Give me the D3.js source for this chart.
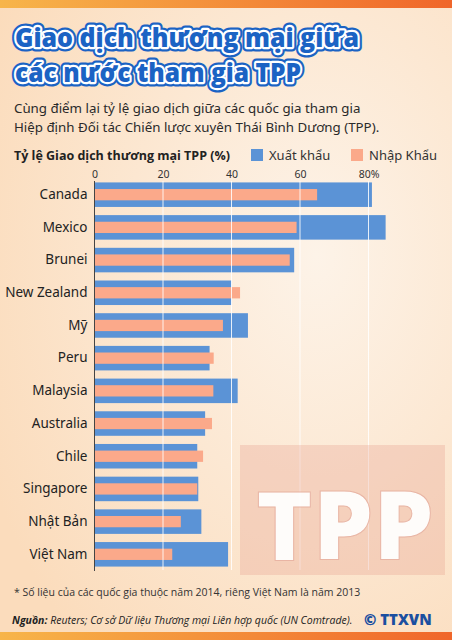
<!DOCTYPE html>
<html><head><meta charset="utf-8">
<script src="https://cdn.jsdelivr.net/npm/d3@7"></script>
<style>body{margin:0}svg{display:block}</style></head>
<body><svg id="c" width="452" height="640"></svg>
<script>
const countries=["Canada","Mexico","Brunei","New Zealand","Mỹ","Peru","Malaysia","Australia","Chile","Singapore","Nhật Bản","Việt Nam"];
const exportVals=[81,85,58.3,40,44.8,33.6,41.8,32.3,30,30.3,31.2,39];
const importVals=[65,59,57,42.5,37.5,34.8,34.7,34.3,31.7,30,25.2,22.7];
const ticks=[0,20,40,60,80];
const tickLabels=["0","20","40","60","80%"];

const svg=d3.select("#c");
const defs=svg.append("defs");
const bg=defs.append("radialGradient").attr("id","bg").attr("cx","0.7").attr("cy","0.4").attr("r","0.8");
bg.append("stop").attr("offset","0").attr("stop-color","#fdf3e8");
bg.append("stop").attr("offset","1").attr("stop-color","#fbdcbc");
const bar=defs.append("linearGradient").attr("id","bar");
bar.append("stop").attr("offset","0").attr("stop-color","#f7b54a");
bar.append("stop").attr("offset","1").attr("stop-color","#f0662a");
svg.append("rect").attr("width",452).attr("height",640).attr("fill","url(#bg)");
svg.append("rect").attr("width",452).attr("height",8).attr("fill","url(#bar)");
svg.append("rect").attr("y",632).attr("width",452).attr("height",8).attr("fill","url(#bar)");

const tl=["Giao dịch thương mại giữa","các nước tham gia TPP"];
tl.forEach((t,i)=>{
  const y=47+i*35;
  const f="'Open Sans',sans-serif";
  const mk=()=>svg.append("text").attr("x",15).attr("y",y).text(t).attr("font-family",f).attr("font-weight",800).attr("font-size",26).attr("textLength",i==0?344:286).attr("lengthAdjust","spacingAndGlyphs");
  mk().attr("fill","none").attr("stroke","#1b63c4").attr("stroke-width",9).attr("stroke-linejoin","round");
  mk().attr("fill","none").attr("stroke","#fff").attr("stroke-width",4.5).attr("stroke-linejoin","round");
  mk().attr("fill","#1b63c4");
});
["Cùng điểm lại tỷ lệ giao dịch giữa các quốc gia tham gia","Hiệp định Đối tác Chiến lược xuyên Thái Bình Dương  (TPP)."].forEach((t,i)=>{
  svg.append("text").attr("x",14).attr("y",113+i*19).text(t).attr("font-family","'Noto Sans',sans-serif").attr("font-size",13.3).attr("fill","#2a2a2a");
});

svg.append("text").attr("x",14).attr("y",160).text("Tỷ lệ Giao dịch thương mại TPP (%)").attr("font-family","'Open Sans',sans-serif").attr("font-weight",700).attr("font-size",12.5).attr("fill","#222");
svg.append("rect").attr("x",251).attr("y",149).attr("width",12).attr("height",12).attr("fill","#5b93d6");
svg.append("text").attr("x",269).attr("y",160).text("Xuất khẩu").attr("font-family","'Noto Sans',sans-serif").attr("font-size",13).attr("fill","#333");
svg.append("rect").attr("x",351).attr("y",149).attr("width",12).attr("height",12).attr("fill","#fba98a");
svg.append("text").attr("x",369).attr("y",160).text("Nhập Khẩu").attr("font-family","'Noto Sans',sans-serif").attr("font-size",13).attr("fill","#333");

const x=d3.scaleLinear().domain([0,80]).range([94.5,368.5]);
const y=d3.scaleBand().domain(countries).range([178.5,570.5]).paddingInner(0.25).paddingOuter(0.12);

const g=svg.append("g");
g.selectAll(".ex").data(countries).join("rect").attr("x",x(0)).attr("y",d=>y(d))
  .attr("width",(d,i)=>x(exportVals[i])-x(0)).attr("height",y.bandwidth()).attr("fill","#5b93d6");
g.selectAll(".im").data(countries).join("rect").attr("x",x(0)).attr("y",d=>y(d)+y.bandwidth()*0.27)
  .attr("width",(d,i)=>x(importVals[i])-x(0)).attr("height",y.bandwidth()*0.46).attr("fill","#fba98a");
g.selectAll(".gl").data(ticks.slice(1)).join("line").attr("x1",d=>x(d)).attr("x2",d=>x(d))
  .attr("y1",181).attr("y2",570).attr("stroke","#fff").attr("stroke-opacity",0.85).attr("stroke-width",1);
g.append("line").attr("x1",x(0)).attr("x2",x(0)).attr("y1",181).attr("y2",571).attr("stroke","#444").attr("stroke-width",1);

const ax=svg.append("g").attr("transform","translate(0,181)").call(d3.axisTop(x).tickValues(ticks).tickFormat((d,i)=>tickLabels[i]).tickSize(0).tickPadding(3));
ax.select(".domain").remove();
ax.selectAll("text").attr("font-family","'Noto Sans',sans-serif").attr("font-size",10.5).attr("fill","#333");

const ay=svg.append("g").attr("transform",`translate(${x(0)-7},0)`).call(d3.axisLeft(y).tickSize(0).tickPadding(0));
ay.select(".domain").remove();
ay.selectAll("text").attr("font-family","'Noto Sans',sans-serif").attr("font-size",13.5).attr("fill","#222");

const tg=svg.append("g").attr("opacity",0.9);
tg.append("rect").attr("x",240).attr("y",445).attr("width",205).attr("height",130).attr("fill","#e9a08e").attr("opacity",0.35);
tg.append("text").attr("x",345).attr("y",560).attr("text-anchor","middle").text("TPP").attr("font-family","'Open Sans',sans-serif").attr("font-weight",800).attr("font-size",96)
  .attr("fill","#fff").attr("stroke","#e7b0a0").attr("stroke-width",1);

svg.append("text").attr("x",14).attr("y",596).text("* Số liệu của các quốc gia thuộc năm 2014, riêng Việt Nam là năm 2013").attr("font-family","'Open Sans',sans-serif").attr("font-size",10.5).attr("fill","#333");
const s=svg.append("text").attr("x",12).attr("y",624).attr("font-family","'Open Sans',sans-serif").attr("font-size",10.5).attr("font-style","italic").attr("fill","#222");
s.append("tspan").attr("font-weight",700).text("Nguồn:");
s.append("tspan").text(" Reuters; Cơ sở Dữ liệu Thương mại Liên hợp quốc (UN Comtrade).");
svg.append("text").attr("x",364).attr("y",625).text("© TTXVN").attr("font-family","'Open Sans',sans-serif").attr("font-weight",800).attr("font-size",15).attr("fill","#1b4fa0");
</script></body></html>
